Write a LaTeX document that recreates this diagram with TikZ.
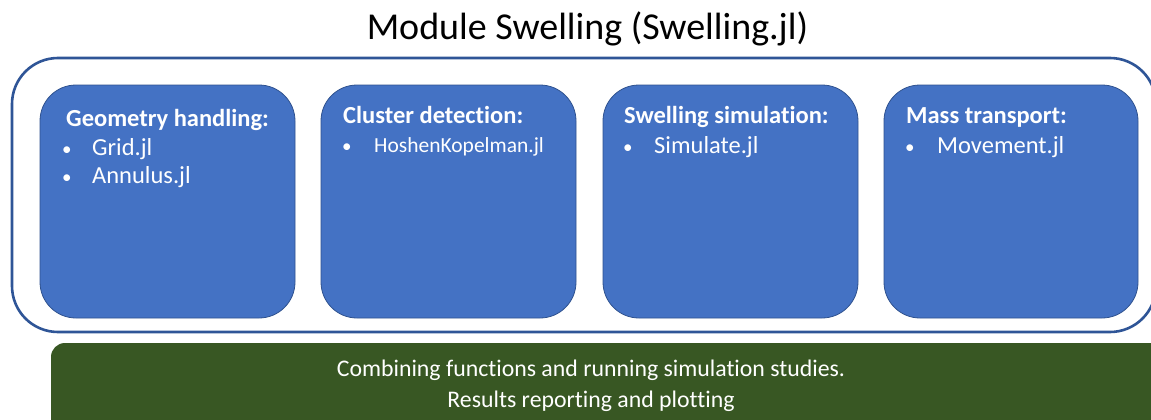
\documentclass[tikz,border=0pt]{standalone}
\usepackage{fontspec}
\setmainfont[Ligatures=NoCommon]{Carlito}
\definecolor{outerblue}{HTML}{2F5597}
\definecolor{boxfill}{HTML}{4472C4}
\definecolor{boxline}{HTML}{2F528F}
\definecolor{greenfill}{HTML}{385723}
\begin{document}
\begin{tikzpicture}[x=1pt,y=-1pt,
  modbox/.style={draw=boxline,line width=0.8pt,fill=boxfill,rounded corners=36pt},
  head/.style={anchor=base west,inner sep=0pt,text=white,font=\fontsize{24.5}{28}\selectfont\bfseries},
  item/.style={anchor=base west,inner sep=0pt,text=white,font=\fontsize{24.5}{28}\selectfont},
  smallitem/.style={anchor=base west,inner sep=0pt,text=white,font=\fontsize{21.5}{25}\selectfont},
  bul/.style={anchor=base west,inner sep=0pt,text=white,font=\fontsize{19}{22}\selectfont},
  bartext/.style={anchor=base,inner sep=0pt,text=white,font=\fontsize{23.8}{28}\selectfont}]
\useasboundingbox (0,0) rectangle (1151,420);
\clip (0,0) rectangle (1151,420);
\fill[white] (0,0) rectangle (1151,420);
% title
\node[anchor=base,inner sep=0pt,font=\fontsize{38}{44}\selectfont] (title) at (587.5,40) {Module Swelling (Swelling.jl)};
% outer frame
\draw[outerblue,line width=2.6pt,rounded corners=46pt] (12,58) rectangle (1156,332);
% boxes
\draw[modbox] (40,85) rectangle (295,318);
\draw[modbox] (321,85) rectangle (576,318);
\draw[modbox] (603,85) rectangle (858,318);
\draw[modbox] (884,85) rectangle (1138,318);
% box 1
\node[head] (h1) at (66,126) {Geometry handling:};
\node[bul] (b11) at (62,155) {•};
\node[item] (t11) at (92,155) {Grid.jl};
\node[bul] (b12) at (62,183) {•};
\node[item] (t12) at (92,183) {Annulus.jl};
% box 2
\node[head] (h2) at (343,123) {Cluster detection:};
\node[bul] (b21) at (342,152) {•};
\node[smallitem] (t21) at (374,152) {HoshenKopelman.jl};
% box 3
\node[head] (h3) at (624,123) {Swelling simulation:};
\node[bul] (b31) at (623,153) {•};
\node[item] (t31) at (654,153) {Simulate.jl};
% box 4
\node[head] (h4) at (906,123) {Mass transport:};
\node[bul] (b41) at (905,153) {•};
\node[item] (t41) at (937,153) {Movement.jl};
% green bar
\fill[greenfill,rounded corners=14pt] (51,343) rectangle (1170,440);
\node[bartext] (g1) at (591,376) {Combining functions and running simulation studies.};
\node[bartext] (g2) at (591,407) {Results reporting and plotting};
\end{tikzpicture}
\end{document}
